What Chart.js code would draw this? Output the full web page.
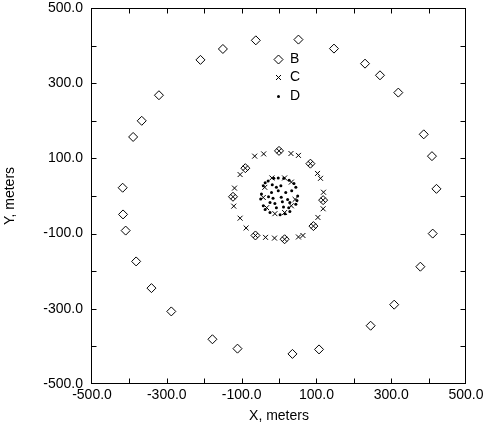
<!DOCTYPE html>
<html>
<head>
<meta charset="utf-8">
<script src="https://cdn.jsdelivr.net/npm/chart.js@4.4.1/dist/chart.umd.min.js"></script>
<style>
  html, body { margin: 0; padding: 0; background: #fff; }
  #wrap { width: 485px; height: 425px; }
</style>
</head>
<body>
<div id="wrap"><canvas id="myChart" width="485" height="425"></canvas></div>
<script>
// series B: diamonds (outer ring and inner ring)
var bX = [-62, -150, -210, -321, -367, -390, -418, -417, -410, -382, -341, -288, -178, -111, 36, 107, 245, 308, 378, 411, 421, 409, 387, 319, 270, 230, 147, 52,
          0, -90, -123, -63, 15, 92, 118, 84];
var bY = [414, 391, 362, 268, 200, 157, 22, -49, -92, -174, -245, -307, -381, -406, -420, -408, -345, -289, -188, -100, 19, 106, 164, 275, 321, 352, 392, 416,
          120, 74, -2, -105, -115, -80, -11, 86];

// series C: crosses (middle ring and inner ring)
var cX = [0, -41, -65, -90, -104, -119, -123, -121, -104, -88, -63, -36, -12, 15, 52, 64, 92, 104, 118, 118, 119, 111, 103, 84, 52, 32,
          -19, 15, 33, -38, -42, 43, 33, 15, -11, -33];
var cY = [120, 112, 106, 74, 57, 21, -2, -27, -59, -85, -105, -110, -112, -115, -109, -105, -80, -57, -34, -11, 10, 47, 60, 86, 108, 113,
          48, 48, 37, 23, -4, -9, -26, -44, -47, -31];

// series D: dots (central cluster)
var dX = [-29, -2, 27, 45, 50, 45, 29, 3, -24, -42, -47, -42, -14, 40, 48, 16, -37, -49, -37, 13,
          -7, -20, 18, 34, -7, 29, 6, -24, 5, -2, -16, 23, 9, 12, -11, -28, 26, -18];
var dY = [40, 48, 42, 23, 0, -22, -41, -50, -44, -26, 5, 27, 47, 33, -12, -47, -36, -8, 35, 47,
          23, 9, 9, 14, -31, -17, -3, -17, 27, 14, -6, -9, -15, -29, -20, -2, -31, 30];

var seriesNames = ['B', 'C', 'D'];
var axisMin = -500, axisMax = 500, axisStep = 100;

function toPoints(xs, ys) {
    var pts = [];
    for (var i = 0; i < xs.length; i++) pts.push({ x: xs[i], y: ys[i] });
    return pts;
}

function tickLabel(v) {
    return (Math.round(v / 100) % 2 !== 0) ? v.toFixed(1) : '';
}

var FONT = { family: "'Liberation Sans', Arial, sans-serif", size: 14 };

// frame with inward ticks on all four sides
var framePlugin = {
    id: 'frame',
    afterDatasetsDraw: function (chart) {
        var ctx = chart.ctx, a = chart.chartArea;
        var xs = chart.scales.x, ys = chart.scales.y;
        ctx.save();
        ctx.strokeStyle = '#000';
        ctx.lineWidth = 1;
        var l = Math.round(a.left) - 0.5, r = Math.round(a.right) - 0.5;
        var t = Math.round(a.top) + 0.5, b = Math.round(a.bottom) - 0.5;
        ctx.strokeRect(l, t, r - l, b - t);
        ctx.beginPath();
        for (var v = axisMin + axisStep; v < axisMax; v += axisStep) {
            var px = Math.round(xs.getPixelForValue(v)) + 0.5;
            ctx.moveTo(px, b); ctx.lineTo(px, b - 5);
            ctx.moveTo(px, t); ctx.lineTo(px, t + 5);
            var py = Math.round(ys.getPixelForValue(v)) + 0.5;
            ctx.moveTo(l, py); ctx.lineTo(l + 5, py);
            ctx.moveTo(r, py); ctx.lineTo(r - 5, py);
        }
        ctx.stroke();
        ctx.restore();
    }
};

// legend inside the plot, near the top
var legendPlugin = {
    id: 'innerLegend',
    afterDatasetsDraw: function (chart) {
        var ctx = chart.ctx;
        var mx = 278.5, rows = [59.5, 77.5, 96.5];
        ctx.save();
        ctx.strokeStyle = '#000';
        ctx.fillStyle = '#000';
        ctx.lineWidth = 1;
        // diamond
        ctx.beginPath();
        ctx.moveTo(mx, rows[0] - 4.5); ctx.lineTo(mx + 4.5, rows[0]);
        ctx.lineTo(mx, rows[0] + 4.5); ctx.lineTo(mx - 4.5, rows[0]);
        ctx.closePath(); ctx.stroke();
        // cross
        ctx.beginPath();
        ctx.moveTo(mx - 2.5, rows[1] - 2.5); ctx.lineTo(mx + 2.5, rows[1] + 2.5);
        ctx.moveTo(mx + 2.5, rows[1] - 2.5); ctx.lineTo(mx - 2.5, rows[1] + 2.5);
        ctx.stroke();
        // dot
        ctx.beginPath();
        ctx.arc(mx, rows[2], 1.5, 0, Math.PI * 2);
        ctx.fill();
        ctx.font = FONT.size + 'px ' + FONT.family;
        ctx.textBaseline = 'middle';
        ctx.textAlign = 'left';
        for (var i = 0; i < seriesNames.length; i++) {
            ctx.fillText(seriesNames[i], 290, rows[i]);
        }
        ctx.restore();
    }
};

new Chart('myChart', {
    type: 'scatter',
    data: {
        datasets: [{
            label: seriesNames[0],
            data: toPoints(bX, bY),
            pointStyle: 'rectRot',
            pointRadius: 4.5,
            borderColor: '#000',
            backgroundColor: 'rgba(0,0,0,0)',
            borderWidth: 1
        }, {
            label: seriesNames[1],
            data: toPoints(cX, cY),
            pointStyle: 'crossRot',
            pointRadius: 3.5,
            borderColor: '#000',
            backgroundColor: '#000',
            borderWidth: 1
        }, {
            label: seriesNames[2],
            data: toPoints(dX, dY),
            pointStyle: 'circle',
            pointRadius: 1.5,
            borderWidth: 0,
            borderColor: '#000',
            backgroundColor: '#000'
        }]
    },
    options: {
        responsive: false,
        animation: false,
        devicePixelRatio: 1,
        layout: { padding: { left: 0, top: 8, right: 19, bottom: 0 } },
        plugins: {
            legend: { display: false },
            title: { display: false },
            tooltip: { enabled: false }
        },
        scales: {
            x: {
                type: 'linear',
                min: axisMin,
                max: axisMax,
                afterFit: function (s) { s.height = 41; s.paddingLeft = 0; s.paddingRight = 0; },
                grid: { drawOnChartArea: false, drawTicks: false, color: 'rgba(0,0,0,0)' },
                border: { display: false },
                ticks: { stepSize: axisStep, autoSkip: false, maxRotation: 0, padding: 3, color: '#000', font: FONT, callback: tickLabel },
                title: { display: true, text: 'X, meters', color: '#000', font: FONT, padding: { top: 0, bottom: 0 } }
            },
            y: {
                type: 'linear',
                min: axisMin,
                max: axisMax,
                afterFit: function (s) { s.width = 92; s.paddingTop = 0; s.paddingBottom = 0; },
                grid: { drawOnChartArea: false, drawTicks: false, color: 'rgba(0,0,0,0)' },
                border: { display: false },
                ticks: { stepSize: axisStep, autoSkip: false, padding: 9, color: '#000', font: FONT, callback: tickLabel },
                title: { display: true, text: 'Y, meters', color: '#000', font: FONT, padding: { top: 2, bottom: 0 } }
            }
        }
    },
    plugins: [framePlugin, legendPlugin]
});
</script>
</body>
</html>
